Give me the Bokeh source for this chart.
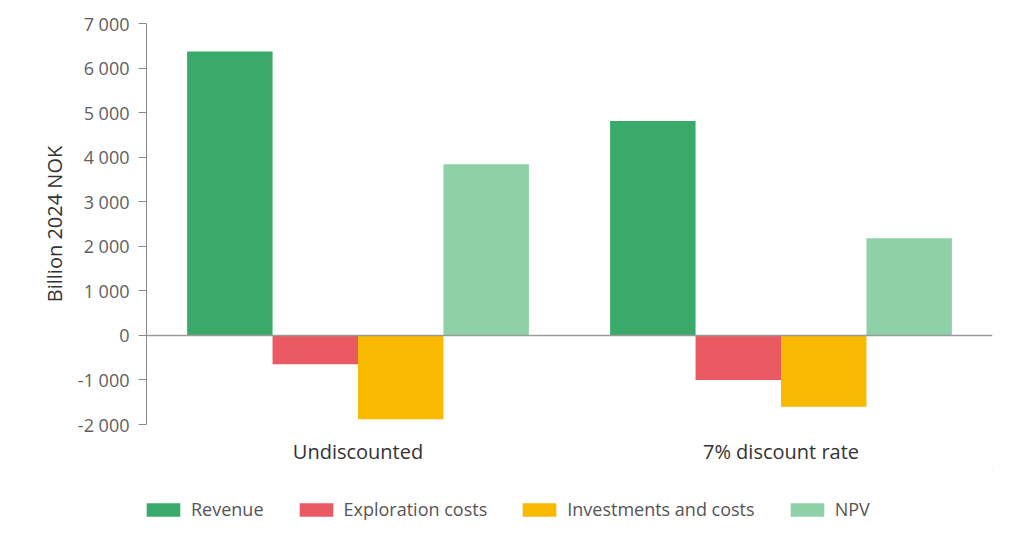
from bokeh.plotting import figure
from bokeh.layouts import column
from bokeh.models import (ColumnDataSource, FactorRange, Range1d, FixedTicker, Span,
                          Legend, LegendItem)
from bokeh.transform import dodge
from bokeh.embed import file_html
from bokeh.resources import INLINE

# ---- data ----
categories = ["Undiscounted", "7% discount rate"]
revenue = [6370, 4810]
exploration_costs = [-650, -1000]
investments_costs = [-1880, -1600]
npv = [3840, 2180]
series_names = ["Revenue", "Exploration costs", "Investments and costs", "NPV"]
series_colors = ["#3aaa6a", "#e95a63", "#f9b900", "#8ed0a8"]
y_ticks = [-2000, -1000, 0, 1000, 2000, 3000, 4000, 5000, 6000, 7000]

source = ColumnDataSource(dict(cat=categories, rev=revenue, exp=exploration_costs,
                               inv=investments_costs, npv=npv))

FONT = "Open Sans"
W = 1016

p = figure(x_range=FactorRange(*categories), y_range=Range1d(-2000, 7000),
           width=W, height=470, output_backend="svg", toolbar_location=None,
           min_border_left=146, min_border_right=24, min_border_top=23,
           min_border_bottom=46)
p.outline_line_color = None
p.background_fill_color = "white"
p.border_fill_color = "white"
p.xgrid.grid_line_color = None
p.ygrid.grid_line_color = None

bw = 0.202
offsets = [-0.303, -0.101, 0.101, 0.303]
cols = ["rev", "exp", "inv", "npv"]
for col, off, color in zip(cols, offsets, series_colors):
    p.vbar(x=dodge("cat", off, range=p.x_range), top=col, bottom=0, width=bw,
           source=source, fill_color=color, line_color=None)

p.add_layout(Span(location=0, dimension="width", line_color="#9a9a9a", line_width=1.5))

# y axis
yax = p.yaxis[0]
yax.ticker = FixedTicker(ticks=y_ticks)
yax.major_label_overrides = {t: f"{t:,}".replace(",", " ") for t in y_ticks}
yax.minor_tick_line_color = None
yax.major_tick_out = 8
yax.major_tick_in = 0
yax.axis_line_color = "#8a8a8a"
yax.major_tick_line_color = "#8a8a8a"
yax.major_label_text_font = FONT
yax.major_label_text_font_size = "18px"
yax.major_label_text_color = "#606060"
yax.major_label_standoff = 9
yax.axis_label = "Billion 2024 NOK"
yax.axis_label_text_font = FONT
yax.axis_label_text_font_size = "20px"
yax.axis_label_text_font_style = "normal"
yax.axis_label_text_color = "#333333"
yax.axis_label_standoff = 7

# x axis
xax = p.xaxis[0]
xax.axis_line_color = None
xax.major_tick_line_color = None
xax.minor_tick_line_color = None
xax.major_label_text_font = FONT
xax.major_label_text_font_size = "20px"
xax.major_label_text_color = "#333333"
xax.major_label_standoff = 7

# legend strip below the chart (swatch glyphs kept outside the visible range)
lg = figure(width=W, height=60, output_backend="svg", toolbar_location=None,
            x_range=Range1d(0, 1), y_range=Range1d(0, 1),
            min_border_left=0, min_border_right=0, min_border_top=0, min_border_bottom=0)
lg.axis.visible = False
lg.grid.visible = False
lg.outline_line_color = None
items = []
for name, color in zip(series_names, series_colors):
    r = lg.vbar(x=[5], top=[5], bottom=[4], width=0.1, fill_color=color, line_color=None)
    items.append(LegendItem(label=name, renderers=[r]))
legend = Legend(items=items, orientation="horizontal", location=(-4, 9),
                glyph_width=42, glyph_height=17, label_standoff=7, spacing=31,
                padding=0, margin=0, border_line_color=None, background_fill_alpha=0,
                label_text_font=FONT, label_text_font_size="18px",
                label_text_color="#555555")
lg.add_layout(legend, "center")

layout = column(p, lg, spacing=0)
open("out.html", "w").write(file_html(layout, INLINE))
